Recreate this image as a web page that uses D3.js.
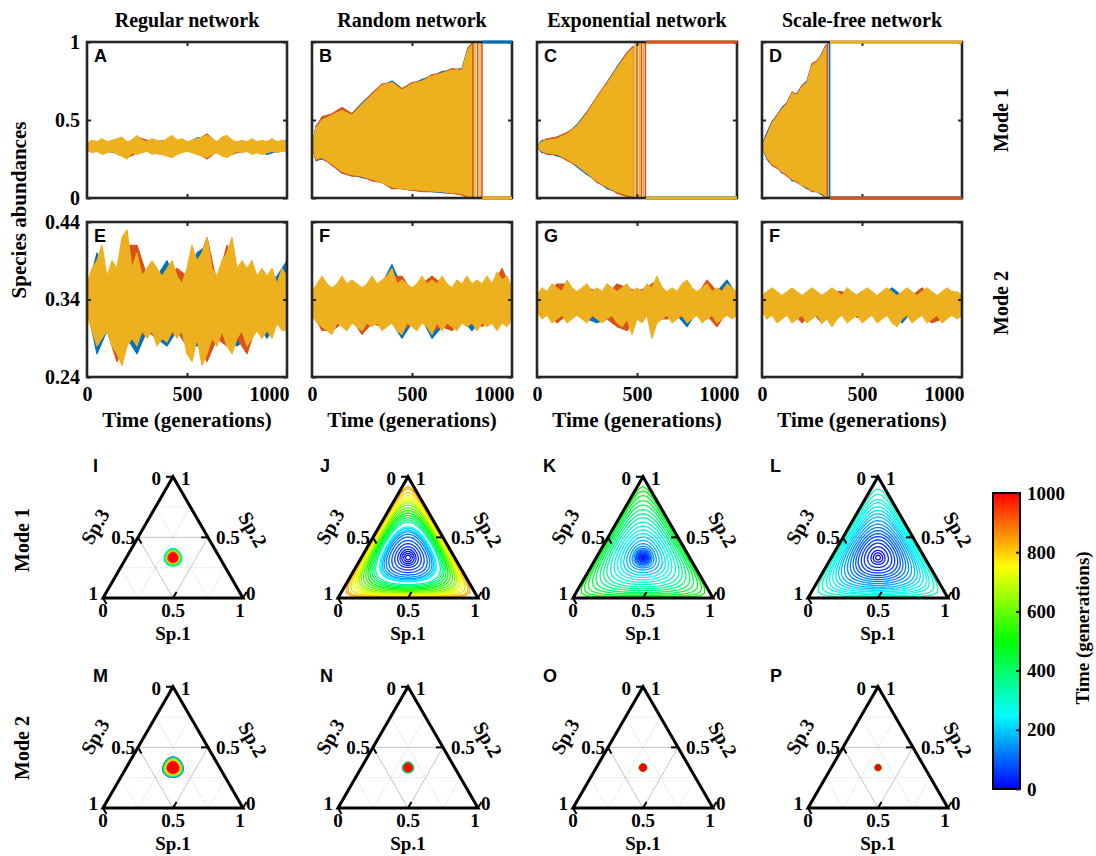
<!DOCTYPE html>
<html>
<head>
<meta charset="utf-8">
<script src="https://cdn.jsdelivr.net/npm/d3@7"></script>
<style>
body { margin: 0; background: #fff; }
text { font-family: "Liberation Serif", "Times New Roman", serif; font-weight: bold; fill: #000; }
.letter { font-family: "Liberation Sans", Arial, sans-serif; font-size: 18px; }
</style>
</head>
<body>
<svg id="fig" width="1096" height="856"></svg>
<script>
// ---- data ----
var columns = ['Regular network', 'Random network', 'Exponential network', 'Scale-free network'];
var t41 = d3.range(0, 1001, 25);
var t21 = d3.range(0, 1001, 50);

// A: regular, mode 1
var aYHi = [0.35,0.37,0.36,0.38,0.36,0.37,0.38,0.39,0.36,0.37,0.40,0.37,0.36,0.38,0.37,0.36,0.38,0.40,0.37,0.38,0.36,0.37,0.38,0.39,0.40,0.38,0.36,0.39,0.40,0.37,0.36,0.37,0.36,0.38,0.36,0.37,0.36,0.38,0.36,0.37,0.36];
var aYLo = [0.31,0.29,0.30,0.28,0.29,0.30,0.28,0.27,0.25,0.29,0.28,0.29,0.30,0.28,0.29,0.28,0.27,0.26,0.28,0.29,0.30,0.29,0.28,0.27,0.26,0.28,0.29,0.27,0.26,0.28,0.30,0.29,0.30,0.28,0.29,0.28,0.29,0.30,0.29,0.30,0.30];
var aBHi = [0.355,0.35,0.355,0.37,0.35,0.39,0.35,0.36,0.37,0.36,0.35,0.385,0.39,0.35,0.39,0.35,0.35,0.35,0.35,0.35,0.37];
var aBLo = [0.30,0.305,0.30,0.29,0.26,0.29,0.305,0.30,0.28,0.29,0.305,0.29,0.27,0.30,0.27,0.30,0.31,0.30,0.28,0.30,0.31];
var aOHi = [0.35,0.35,0.35,0.37,0.35,0.39,0.37,0.36,0.37,0.36,0.35,0.37,0.41,0.35,0.39,0.35,0.35,0.355,0.35,0.35,0.35];
var aOLo = [0.31,0.31,0.30,0.29,0.26,0.29,0.31,0.285,0.28,0.29,0.31,0.29,0.25,0.30,0.27,0.29,0.31,0.30,0.30,0.30,0.31];

// B: random, mode 1
var bT   = [0,20,50,100,150,200,250,300,350,400,450,500,550,600,650,700,750,780,800];
var bYHi = [0.33,0.45,0.50,0.53,0.56,0.53,0.60,0.66,0.72,0.74,0.69,0.73,0.75,0.78,0.80,0.82,0.82,0.95,0.98];
var bYLo = [0.33,0.25,0.26,0.22,0.17,0.15,0.14,0.12,0.10,0.07,0.06,0.055,0.05,0.045,0.04,0.035,0.03,0.01,0.0];
var bBHi = [0.33,0.46,0.51,0.53,0.57,0.54,0.61,0.67,0.72,0.75,0.70,0.73,0.76,0.78,0.81,0.82,0.83,0.96,0.99];
var bBLo = [0.33,0.24,0.25,0.22,0.16,0.15,0.13,0.12,0.10,0.07,0.06,0.05,0.05,0.04,0.035,0.03,0.03,0.0,0.0];
var bOHi = [0.33,0.45,0.52,0.54,0.58,0.54,0.60,0.67,0.73,0.74,0.70,0.74,0.75,0.79,0.80,0.83,0.82,0.96,0.99];
var bOLo = [0.33,0.24,0.26,0.21,0.16,0.14,0.14,0.11,0.10,0.06,0.06,0.05,0.04,0.04,0.04,0.03,0.02,0.0,0.0];
var bSpikes = [805, 815, 828, 840, 850];
var bFinal = [1, 0, 0];   // blue, orange, yellow after collapse

// C: exponential, mode 1
var cT   = [0,25,50,100,150,200,250,300,350,400,450,480];
var cYHi = [0.33,0.36,0.37,0.38,0.41,0.46,0.54,0.64,0.73,0.83,0.92,0.96];
var cYLo = [0.33,0.30,0.29,0.28,0.25,0.21,0.16,0.11,0.07,0.04,0.02,0.01];
var cBHi = [0.33,0.37,0.37,0.39,0.41,0.47,0.55,0.64,0.74,0.84,0.93,0.97];
var cBLo = [0.33,0.29,0.29,0.27,0.25,0.20,0.15,0.11,0.06,0.04,0.02,0.0];
var cOHi = [0.33,0.36,0.38,0.39,0.42,0.46,0.55,0.65,0.74,0.83,0.93,0.97];
var cOLo = [0.33,0.30,0.28,0.28,0.24,0.21,0.16,0.10,0.07,0.03,0.01,0.0];
var cSpikes = [490, 500, 512, 522, 532, 542];
var cFinal = [0, 1, 0];

// D: scale-free, mode 1
var dT   = [0,25,50,75,100,125,150,175,200,225,250,275,300,320];
var dYHi = [0.33,0.40,0.48,0.52,0.57,0.60,0.67,0.66,0.71,0.74,0.85,0.87,0.92,0.97];
var dYLo = [0.33,0.26,0.22,0.20,0.17,0.15,0.12,0.11,0.08,0.07,0.05,0.04,0.03,0.01];
var dBHi = [0.34,0.42,0.49,0.53,0.58,0.61,0.67,0.67,0.72,0.75,0.86,0.87,0.93,0.98];
var dBLo = [0.32,0.25,0.21,0.20,0.16,0.15,0.11,0.11,0.08,0.06,0.05,0.04,0.02,0.0];
var dOHi = [0.33,0.41,0.48,0.53,0.57,0.61,0.68,0.66,0.72,0.74,0.86,0.88,0.92,0.98];
var dOLo = [0.33,0.26,0.21,0.19,0.17,0.14,0.12,0.10,0.08,0.07,0.04,0.04,0.03,0.0];
var dSpikes = [328, 338];
var dFinal = [0, 0, 1];

// E: regular, mode 2
var eYHi = [0.36,0.38,0.39,0.41,0.37,0.39,0.38,0.42,0.43,0.38,0.40,0.37,0.38,0.39,0.38,0.37,0.38,0.39,0.37,0.36,0.38,0.41,0.39,0.40,0.42,0.38,0.37,0.39,0.40,0.42,0.38,0.39,0.38,0.39,0.37,0.38,0.37,0.38,0.36,0.38,0.37];
var eYLo = [0.32,0.30,0.28,0.29,0.30,0.28,0.27,0.255,0.28,0.29,0.28,0.30,0.29,0.30,0.28,0.29,0.285,0.30,0.29,0.30,0.27,0.26,0.29,0.255,0.27,0.29,0.28,0.30,0.28,0.27,0.29,0.30,0.28,0.29,0.30,0.29,0.30,0.29,0.31,0.30,0.30];
var eBHi = [0.35,0.40,0.36,0.37,0.41,0.38,0.37,0.37,0.39,0.36,0.37,0.40,0.41,0.36,0.38,0.37,0.38,0.36,0.36,0.37,0.39];
var eBLo = [0.33,0.27,0.30,0.28,0.29,0.27,0.30,0.29,0.28,0.30,0.28,0.28,0.28,0.29,0.29,0.28,0.29,0.31,0.29,0.31,0.30];
var eOHi = [0.35,0.38,0.36,0.37,0.41,0.41,0.37,0.37,0.37,0.38,0.37,0.38,0.42,0.36,0.41,0.37,0.37,0.36,0.36,0.36,0.36];
var eOLo = [0.33,0.29,0.30,0.26,0.29,0.29,0.30,0.29,0.29,0.30,0.28,0.29,0.26,0.29,0.28,0.29,0.27,0.31,0.31,0.31,0.31];

// F: random, mode 2
var fYHi = [0.35,0.36,0.37,0.36,0.355,0.36,0.37,0.36,0.365,0.36,0.355,0.36,0.37,0.36,0.365,0.37,0.38,0.36,0.365,0.36,0.355,0.36,0.37,0.36,0.365,0.36,0.37,0.36,0.355,0.365,0.36,0.37,0.36,0.365,0.36,0.37,0.36,0.375,0.365,0.37,0.355];
var fYLo = [0.32,0.31,0.305,0.30,0.295,0.31,0.305,0.30,0.31,0.305,0.30,0.31,0.305,0.31,0.30,0.305,0.31,0.30,0.295,0.31,0.305,0.30,0.31,0.305,0.295,0.31,0.30,0.31,0.305,0.30,0.31,0.305,0.31,0.30,0.31,0.305,0.31,0.30,0.31,0.305,0.315];
var fBHi = [0.345,0.36,0.35,0.36,0.355,0.35,0.36,0.36,0.385,0.355,0.35,0.36,0.355,0.36,0.35,0.355,0.355,0.355,0.355,0.375,0.35];
var fBLo = [0.325,0.31,0.30,0.31,0.315,0.305,0.31,0.305,0.31,0.29,0.31,0.315,0.29,0.305,0.31,0.315,0.30,0.315,0.315,0.31,0.32];
var fOHi = [0.345,0.36,0.35,0.36,0.355,0.35,0.36,0.36,0.37,0.37,0.35,0.36,0.37,0.36,0.35,0.355,0.355,0.355,0.355,0.38,0.35];
var fOLo = [0.325,0.30,0.30,0.31,0.315,0.295,0.31,0.305,0.31,0.30,0.31,0.315,0.30,0.305,0.30,0.315,0.315,0.305,0.315,0.31,0.32];

// G: exponential, mode 2
var gYHi = [0.345,0.355,0.35,0.36,0.355,0.35,0.365,0.355,0.35,0.355,0.36,0.35,0.355,0.35,0.36,0.355,0.35,0.355,0.36,0.35,0.355,0.35,0.36,0.355,0.37,0.355,0.35,0.355,0.35,0.36,0.365,0.355,0.35,0.355,0.36,0.35,0.355,0.35,0.36,0.355,0.35];
var gYLo = [0.325,0.315,0.32,0.31,0.315,0.32,0.31,0.315,0.32,0.315,0.31,0.32,0.315,0.31,0.315,0.32,0.31,0.305,0.315,0.295,0.315,0.31,0.32,0.29,0.31,0.315,0.32,0.31,0.315,0.32,0.31,0.315,0.32,0.31,0.315,0.32,0.31,0.315,0.32,0.315,0.32];
var gBHi = [0.34,0.345,0.35,0.36,0.345,0.355,0.35,0.345,0.35,0.355,0.35,0.355,0.365,0.345,0.345,0.36,0.345,0.355,0.35,0.365,0.345];
var gBLo = [0.33,0.325,0.32,0.32,0.32,0.315,0.31,0.315,0.315,0.30,0.32,0.325,0.315,0.325,0.32,0.305,0.325,0.32,0.315,0.325,0.325];
var gOHi = [0.34,0.345,0.36,0.36,0.345,0.355,0.35,0.345,0.36,0.355,0.35,0.355,0.365,0.345,0.345,0.36,0.345,0.365,0.35,0.355,0.345];
var gOLo = [0.33,0.325,0.31,0.32,0.32,0.315,0.32,0.315,0.305,0.30,0.32,0.325,0.315,0.315,0.32,0.315,0.325,0.32,0.305,0.325,0.325];

// H (labelled F in the figure): scale-free, mode 2
var hYHi = [0.345,0.35,0.355,0.35,0.345,0.35,0.355,0.35,0.345,0.35,0.355,0.35,0.345,0.35,0.355,0.35,0.345,0.355,0.35,0.345,0.35,0.355,0.35,0.345,0.35,0.355,0.35,0.345,0.35,0.355,0.35,0.345,0.35,0.355,0.35,0.345,0.35,0.355,0.35,0.35,0.345];
var hYLo = [0.325,0.315,0.32,0.31,0.315,0.32,0.31,0.315,0.32,0.31,0.315,0.32,0.31,0.315,0.305,0.315,0.32,0.31,0.315,0.32,0.31,0.315,0.32,0.31,0.315,0.32,0.31,0.305,0.315,0.32,0.31,0.315,0.32,0.31,0.315,0.32,0.31,0.315,0.32,0.315,0.32];
var hBHi = [0.34,0.35,0.34,0.35,0.34,0.35,0.34,0.35,0.35,0.34,0.35,0.34,0.345,0.355,0.345,0.345,0.345,0.345,0.34,0.35,0.34];
var hBLo = [0.33,0.325,0.32,0.325,0.32,0.325,0.31,0.325,0.325,0.32,0.315,0.325,0.32,0.325,0.31,0.325,0.32,0.32,0.315,0.325,0.325];
var hOHi = [0.34,0.35,0.34,0.35,0.34,0.35,0.345,0.35,0.35,0.34,0.35,0.34,0.345,0.345,0.345,0.345,0.355,0.345,0.34,0.35,0.34];
var hOLo = [0.33,0.325,0.32,0.325,0.31,0.325,0.31,0.325,0.325,0.32,0.315,0.325,0.32,0.325,0.32,0.325,0.32,0.31,0.315,0.325,0.325];

// ternary trajectories: orbit time (generation) and orbit size (0 = centre, 1 = edge)
var iT = [100,200,300,400,500,600,700,800,900,1000];
var iA = [0.18,0.19,0.18,0.17,0.16,0.15,0.14,0.13,0.12,0.10];
var jT = [0,10,20,30,45,60,80,100,130,160,190,220,250,340,380,420,460,500,540,580,620,660,700,730,760,790,820,840];
var jA = [0.05,0.09,0.13,0.17,0.22,0.28,0.34,0.40,0.45,0.49,0.52,0.55,0.57,0.64,0.67,0.70,0.73,0.76,0.79,0.82,0.85,0.87,0.89,0.91,0.93,0.95,0.97,0.98];
var kT = [0,15,30,45,60,75,90,105,120,140,160,185,210,235,260,285,310,335,360,385,410,435,460,485,510];
var kA = [0.02,0.04,0.06,0.08,0.10,0.12,0.14,0.16,0.19,0.23,0.28,0.34,0.40,0.46,0.52,0.58,0.64,0.70,0.75,0.80,0.85,0.89,0.93,0.96,0.98];
var lT = [0,10,20,35,50,65,80,95,110,125,140,160,180,200,220,240,260,280,300,320];
var lA = [0.05,0.10,0.15,0.22,0.29,0.35,0.41,0.46,0.51,0.56,0.61,0.66,0.71,0.75,0.79,0.83,0.87,0.90,0.94,0.97];
var mT = [30,200,450,650,800,1000];
var mA = [0.22,0.21,0.20,0.18,0.16,0.13];
var nT = [100,500,1000];
var nA = [0.12,0.11,0.09];
var oT = [500,1000];
var oA = [0.085,0.08];
var pT = [500,1000];
var pA = [0.075,0.065];

var cbTicks = [0, 200, 400, 600, 800, 1000];

// ---- drawing ----
var svg = d3.select('#fig');
var serif = '"Liberation Serif", "Times New Roman", serif';
var cBlue = '#0072BD', cOrange = '#D95319', cYellow = '#EDB120';
var W = 200;
var colLeft = [87, 312, 537, 762];
var sqrt3 = Math.sqrt(3);

var timeColor = d3.scaleLinear().domain([0, 1000])
  .range(['hsl(240,100%,50%)', 'hsl(0,100%,50%)'])
  .interpolate(d3.interpolateHslLong);

function styleAxis(g, size) {
  g.attr('font-family', serif).attr('font-size', size);
  g.select('.domain').remove();
  g.selectAll('.tick line').attr('stroke', '#262626').attr('stroke-width', 2);
}

function tsPanel(p) {
  var x = d3.scaleLinear().domain([0, 1000]).range([p.left, p.left + W]);
  var y = d3.scaleLinear().domain(p.yDomain).range([p.bottom, p.top]);
  var g = svg.append('g');
  var id = 'clip' + p.key;
  svg.append('clipPath').attr('id', id).append('rect')
    .attr('x', p.left).attr('y', p.top).attr('width', W).attr('height', p.bottom - p.top);
  var plot = g.append('g').attr('clip-path', 'url(#' + id + ')');

  p.series.forEach(function(s) {
    var area = d3.area()
      .x(function(d, i) { return x(s.t[i]); })
      .y0(function(d, i) { return y(s.lo[i]); })
      .y1(function(d) { return y(d); });
    plot.append('path').datum(s.hi).attr('d', area)
      .attr('fill', s.color).attr('stroke', s.color)
      .attr('stroke-width', 1.2).attr('stroke-linejoin', 'round');
  });

  if (p.spikes) {
    var spikeCols = p.spikeColors;
    plot.selectAll('.spike').data(p.spikes).enter().append('line')
      .attr('x1', function(d) { return x(d); }).attr('x2', function(d) { return x(d); })
      .attr('y1', y(0)).attr('y2', y(1))
      .attr('stroke', function(d, i) { return spikeCols[i % spikeCols.length]; })
      .attr('stroke-width', 1.6);
  }

  var noLabel = function() { return ''; };
  var fmt = p.yFormat || noLabel;
  g.append('g').attr('transform', 'translate(' + p.left + ',0)')
    .call(d3.axisLeft(y).tickValues(p.yTicks).tickSizeInner(-4).tickSizeOuter(0).tickPadding(7)
      .tickFormat(p.showY ? fmt : noLabel))
    .call(styleAxis, 20);
  g.append('g').attr('transform', 'translate(' + (p.left + W) + ',0)')
    .call(d3.axisRight(y).tickValues(p.yTicks).tickSizeInner(-4).tickSizeOuter(0).tickFormat(noLabel))
    .call(styleAxis, 20);
  g.append('g').attr('transform', 'translate(0,' + p.top + ')')
    .call(d3.axisTop(x).tickValues([500]).tickSizeInner(-4).tickSizeOuter(0).tickFormat(noLabel))
    .call(styleAxis, 20);
  var bx = g.append('g').attr('transform', 'translate(0,' + p.bottom + ')')
    .call(d3.axisBottom(x).tickValues(p.showX ? [0, 500, 1000] : [500]).tickSizeInner(-4)
      .tickSizeOuter(0).tickPadding(10).tickFormat(p.showX ? d3.format('d') : noLabel))
    .call(styleAxis, 20);
  bx.selectAll('.tick').filter(function(d) { return d === 1000; }).select('text')
    .attr('text-anchor', 'end').attr('x', 2);
  bx.selectAll('.tick line').filter(function(d) { return d !== 500; }).remove();

  g.append('rect').attr('x', p.left).attr('y', p.top).attr('width', W).attr('height', p.bottom - p.top)
    .attr('fill', 'none').attr('stroke', '#262626').attr('stroke-width', 2.6);

  if (p.finals) {
    var cols = [cBlue, cOrange, cYellow];
    p.finals.forEach(function(v, i) {
      g.append('line').attr('x1', x(p.collapse)).attr('x2', x(1000))
        .attr('y1', y(v)).attr('y2', y(v))
        .attr('stroke', cols[i]).attr('stroke-width', 3);
    });
  }

  g.append('text').attr('class', 'letter').attr('x', p.left + 7).attr('y', p.top + 20).text(p.letter);
  if (p.showX) {
    g.append('text').attr('x', p.left + W / 2).attr('y', p.bottom + 50)
      .attr('text-anchor', 'middle').attr('font-size', 21).text('Time (generations)');
  }
}

function trio(bt, bh, bl, ot, oh, ol, yt, yh, yl) {
  return [
    { color: cBlue, t: bt, hi: bh, lo: bl },
    { color: cOrange, t: ot, hi: oh, lo: ol },
    { color: cYellow, t: yt, hi: yh, lo: yl }
  ];
}

var r1 = { top: 42, bottom: 198, yDomain: [0, 1], yTicks: [0, 0.5, 1] };
var r2 = { top: 222, bottom: 377, yDomain: [0.24, 0.44], yTicks: [0.24, 0.34, 0.44] };
var fmt1 = function(d) { return d === 0.5 ? '0.5' : d3.format('d')(d); };
var fmt2 = d3.format('.2f');

tsPanel(Object.assign({}, r1, { key: 'A', letter: 'A', left: colLeft[0], showY: true, yFormat: fmt1,
  series: trio(t21, aBHi, aBLo, t21, aOHi, aOLo, t41, aYHi, aYLo) }));
tsPanel(Object.assign({}, r1, { key: 'B', letter: 'B', left: colLeft[1],
  series: trio(bT, bBHi, bBLo, bT, bOHi, bOLo, bT, bYHi, bYLo),
  spikes: bSpikes, spikeColors: [cOrange, cYellow], collapse: 852, finals: bFinal }));
tsPanel(Object.assign({}, r1, { key: 'C', letter: 'C', left: colLeft[2],
  series: trio(cT, cBHi, cBLo, cT, cOHi, cOLo, cT, cYHi, cYLo),
  spikes: cSpikes, spikeColors: [cYellow, cOrange], collapse: 545, finals: cFinal }));
tsPanel(Object.assign({}, r1, { key: 'D', letter: 'D', left: colLeft[3],
  series: trio(dT, dBHi, dBLo, dT, dOHi, dOLo, dT, dYHi, dYLo),
  spikes: dSpikes, spikeColors: [cOrange, cBlue], collapse: 340, finals: dFinal }));

tsPanel(Object.assign({}, r2, { key: 'E', letter: 'E', left: colLeft[0], showY: true, showX: true, yFormat: fmt2,
  series: trio(t21, eBHi, eBLo, t21, eOHi, eOLo, t41, eYHi, eYLo) }));
tsPanel(Object.assign({}, r2, { key: 'F', letter: 'F', left: colLeft[1], showX: true,
  series: trio(t21, fBHi, fBLo, t21, fOHi, fOLo, t41, fYHi, fYLo) }));
tsPanel(Object.assign({}, r2, { key: 'G', letter: 'G', left: colLeft[2], showX: true,
  series: trio(t21, gBHi, gBLo, t21, gOHi, gOLo, t41, gYHi, gYLo) }));
tsPanel(Object.assign({}, r2, { key: 'H', letter: 'F', left: colLeft[3], showX: true,
  series: trio(t21, hBHi, hBLo, t21, hOHi, hOLo, t41, hYHi, hYLo) }));

// column titles
columns.forEach(function(c, i) {
  svg.append('text').attr('x', colLeft[i] + W / 2).attr('y', 27).attr('text-anchor', 'middle')
    .attr('font-size', 20).text(c);
});

function vtext(x, y, rot, size, str) {
  svg.append('text').attr('transform', 'translate(' + x + ',' + y + ') rotate(' + rot + ')')
    .attr('text-anchor', 'middle').attr('dy', '0.35em').attr('font-size', size).text(str);
}
vtext(19, 210, -90, 21, 'Species abundances');
vtext(1001, 120, -90, 20, 'Mode 1');
vtext(1001, 303, -90, 20, 'Mode 2');
vtext(22, 540, -90, 20, 'Mode 1');
vtext(22, 748, -90, 20, 'Mode 2');

// ---- ternary plots ----
function orbit(amp) {
  // closed level curve of Sp.1*Sp.2*Sp.3 around the centre
  var target = (1 - amp * amp) / 27;
  var pts = [];
  for (var k = 0; k < 96; k++) {
    var th = 2 * Math.PI * k / 96, dx = Math.cos(th), dy = Math.sin(th);
    var bary = function(t) {
      var yu = sqrt3 / 6 + t * dy, xu = 0.5 + t * dx;
      var b = yu / (sqrt3 / 2), a = xu - b / 2;
      return [a, b, 1 - a - b];
    };
    var lo = 0, hi = 0.7, m, q, i;
    for (i = 0; i < 30; i++) { m = (lo + hi) / 2; q = bary(m); if (Math.min(q[0], q[1], q[2]) > 0) lo = m; else hi = m; }
    hi = lo; lo = 0;
    for (i = 0; i < 30; i++) { m = (lo + hi) / 2; q = bary(m); if (q[0] * q[1] * q[2] > target) lo = m; else hi = m; }
    pts.push(bary(lo));
  }
  return pts;
}

function ternary(p) {
  var s = 140, h = s * sqrt3 / 2;
  var X = d3.scaleLinear().domain([0, 1]).range([p.cx - s / 2, p.cx + s / 2]);
  var Y = d3.scaleLinear().domain([0, sqrt3 / 2]).range([p.base, p.base - h]);
  function pr(a, b) { return [X(a + b / 2), Y(b * sqrt3 / 2)]; }
  var g = svg.append('g');

  // grid
  [0.25, 0.5, 0.75].forEach(function(v) {
    var segs = [[pr(v, 0), pr(v, 1 - v)], [pr(0, v), pr(1 - v, v)], [pr(0, 1 - v), pr(1 - v, 0)]];
    segs.forEach(function(sg) {
      g.append('line').attr('x1', sg[0][0]).attr('y1', sg[0][1]).attr('x2', sg[1][0]).attr('y2', sg[1][1])
        .attr('stroke', v === 0.5 ? '#c4c4c4' : '#e2e2e2').attr('stroke-width', 1)
        .attr('stroke-dasharray', v === 0.5 ? null : '2,1');
    });
  });

  // trajectory
  var line = d3.line()
    .x(function(q) { return X(q[0] + q[1] / 2); })
    .y(function(q) { return Y(q[1] * sqrt3 / 2); })
    .curve(d3.curveLinearClosed);
  p.t.forEach(function(t, i) {
    var col = timeColor(t);
    g.append('path').attr('d', line(orbit(p.a[i])))
      .attr('fill', p.filled ? col : 'none').attr('stroke', col)
      .attr('stroke-width', p.filled ? 1 : 1.3);
  });

  // frame
  var apex = pr(0, 1), bl = pr(0, 0), br = pr(1, 0);
  g.append('path').attr('d', 'M' + bl + 'L' + br + 'L' + apex + 'Z')
    .attr('fill', 'none').attr('stroke', '#000').attr('stroke-width', 3).attr('stroke-linejoin', 'miter');

  // ticks along grid directions
  var L = 7;
  [0, 0.5, 1].forEach(function(v) {
    var t1 = pr(v, 0), t2 = pr(1 - v, v), t3 = pr(0, 1 - v);
    var ticks = [[t1, 0.5, -sqrt3 / 2], [t2, -1, 0], [t3, 0.5, sqrt3 / 2]];
    ticks.forEach(function(tk) {
      g.append('line').attr('x1', tk[0][0]).attr('y1', tk[0][1])
        .attr('x2', tk[0][0] + L * tk[1]).attr('y2', tk[0][1] + L * tk[2])
        .attr('stroke', '#000').attr('stroke-width', 2);
    });
  });

  function lab(x, y, anchor, str) {
    g.append('text').attr('x', x).attr('y', y).attr('text-anchor', anchor)
      .attr('font-size', 19).text(str);
  }
  var lm = pr(0, 0.5), rm = pr(0.5, 0.5);
  lab(apex[0] - 12, apex[1] + 8, 'end', '0');
  lab(apex[0] + 8, apex[1] + 8, 'start', '1');
  lab(lm[0] - 3, lm[1] + 7, 'end', '0.5');
  lab(rm[0] + 8, rm[1] + 7, 'start', '0.5');
  lab(bl[0] - 5, bl[1] + 2, 'end', '1');
  lab(br[0] + 3, br[1] + 2, 'start', '0');
  lab(bl[0], p.base + 19, 'middle', '0');
  lab(p.cx, p.base + 19, 'middle', '0.5');
  lab(br[0] - 3, p.base + 19, 'middle', '1');
  lab(p.cx, p.base + 42, 'middle', 'Sp.1');
  g.append('text').attr('transform', 'translate(' + (lm[0] - 43) + ',' + (lm[1] - 11) + ') rotate(-60)')
    .attr('text-anchor', 'middle').attr('dy', '0.35em').attr('font-size', 20).text('Sp.3');
  g.append('text').attr('transform', 'translate(' + (rm[0] + 45) + ',' + (rm[1] - 8) + ') rotate(60)')
    .attr('text-anchor', 'middle').attr('dy', '0.35em').attr('font-size', 20).text('Sp.2');

  g.append('text').attr('class', 'letter').attr('x', p.lx).attr('y', p.base - 126).text(p.letter);
}

var triX = [173, 408, 643, 878];
var letterX = [93, 320, 543, 770];
ternary({ cx: triX[0], base: 598, lx: letterX[0], letter: 'I', t: iT, a: iA, filled: true });
ternary({ cx: triX[1], base: 598, lx: letterX[1], letter: 'J', t: jT, a: jA });
ternary({ cx: triX[2], base: 598, lx: letterX[2], letter: 'K', t: kT, a: kA });
ternary({ cx: triX[3], base: 598, lx: letterX[3], letter: 'L', t: lT, a: lA });
ternary({ cx: triX[0], base: 808, lx: letterX[0], letter: 'M', t: mT, a: mA, filled: true });
ternary({ cx: triX[1], base: 808, lx: letterX[1], letter: 'N', t: nT, a: nA, filled: true });
ternary({ cx: triX[2], base: 808, lx: letterX[2], letter: 'O', t: oT, a: oA, filled: true });
ternary({ cx: triX[3], base: 808, lx: letterX[3], letter: 'P', t: pT, a: pA, filled: true });

// ---- colour bar ----
var cb = { x: 993, w: 27, top: 493, bottom: 789 };
var cy = d3.scaleLinear().domain([0, 1000]).range([cb.bottom, cb.top]);
var grad = svg.append('defs').append('linearGradient').attr('id', 'jetbar')
  .attr('x1', 0).attr('y1', 1).attr('x2', 0).attr('y2', 0);
d3.range(0, 1001, 50).forEach(function(t) {
  grad.append('stop').attr('offset', t / 1000).attr('stop-color', timeColor(t));
});
svg.append('rect').attr('x', cb.x).attr('y', cb.top).attr('width', cb.w).attr('height', cb.bottom - cb.top)
  .attr('fill', 'url(#jetbar)').attr('stroke', '#000').attr('stroke-width', 2);
svg.append('g').attr('transform', 'translate(' + (cb.x + cb.w) + ',0)')
  .call(d3.axisRight(cy).tickValues(cbTicks).tickSizeInner(-4).tickSizeOuter(0).tickPadding(7)
    .tickFormat(d3.format('d')))
  .call(styleAxis, 19);
vtext(1082, 628, -90, 19, 'Time (generations)');
</script>
</body>
</html>
